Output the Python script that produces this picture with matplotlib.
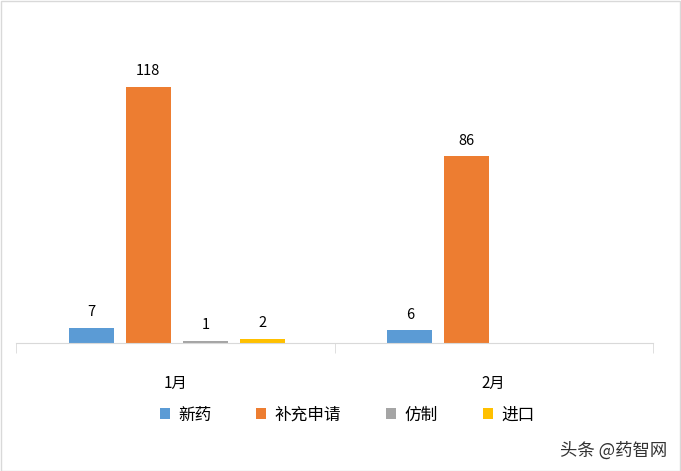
import numpy as np
import matplotlib.pyplot as plt
from matplotlib.patches import Rectangle

plt.rcParams['font.family'] = ['Noto Sans CJK SC', 'DejaVu Sans']

months = ['1月', '2月']
series = ['新药', '补充申请', '仿制', '进口']
xinyao = [7, 6]
buchong = [118, 86]
fangzhi = [1, 0]
jinkou = [2, 0]
colors = ['#5b9bd5', '#ed7d31', '#a5a5a5', '#ffc000']

W, H = 681, 471
fig = plt.figure(figsize=(W / 100, H / 100), dpi=100)
# axes placed in pixel terms: left 16, right 653, bottom 343, top 30
ax = fig.add_axes([16 / W, (H - 343) / H, (653 - 16) / W, (343 - 30) / H])

x = np.arange(len(months))
width = 0.141
step = 0.179
offsets = (np.arange(4) - 1.5) * step + 0.005
for vals, name, c, off in zip([xinyao, buchong, fangzhi, jinkou], series, colors, offsets):
    bars = ax.bar(x + off, vals, width, color=c, label=name)
    for b, v in zip(bars, vals):
        if v == 0:
            continue
        ax.annotate(str(v), (b.get_x() + b.get_width() / 2, v), xytext=(0, 6),
                    textcoords='offset points', ha='center', va='bottom',
                    fontsize=10.5, color='black')

ax.set_xlim(-0.5, 1.5)
ax.set_ylim(0, 144)
ax.set_yticks([])
for s in ['top', 'right', 'left']:
    ax.spines[s].set_visible(False)
ax.spines['bottom'].set_color('#d9d9d9')
ax.set_xticks(x)
ax.set_xticklabels(months, fontsize=11)
ax.tick_params(axis='x', which='major', length=0, pad=23)
ax.set_xticks([-0.5, 0.5, 1.5], minor=True)
ax.tick_params(axis='x', which='minor', length=7, color='#d9d9d9')

fig.legend(loc='center', bbox_to_anchor=(347 / W, (H - 415) / H), ncol=4,
           frameon=False, fontsize=12, handlelength=0.6, handleheight=0.6,
           columnspacing=2.7, handletextpad=0.5)

fig.text(667 / W, (H - 451) / H, '头条 @药智网', ha='right', va='center',
         fontsize=12.5, color='#333333')
fig.patches.append(Rectangle((0.5 / W, 0.5 / H), 1 - 1.5 / W, 1 - 1.5 / H,
                             transform=fig.transFigure, fill=False,
                             edgecolor='#d9d9d9', lw=1))

plt.savefig('out.png', dpi=100)
